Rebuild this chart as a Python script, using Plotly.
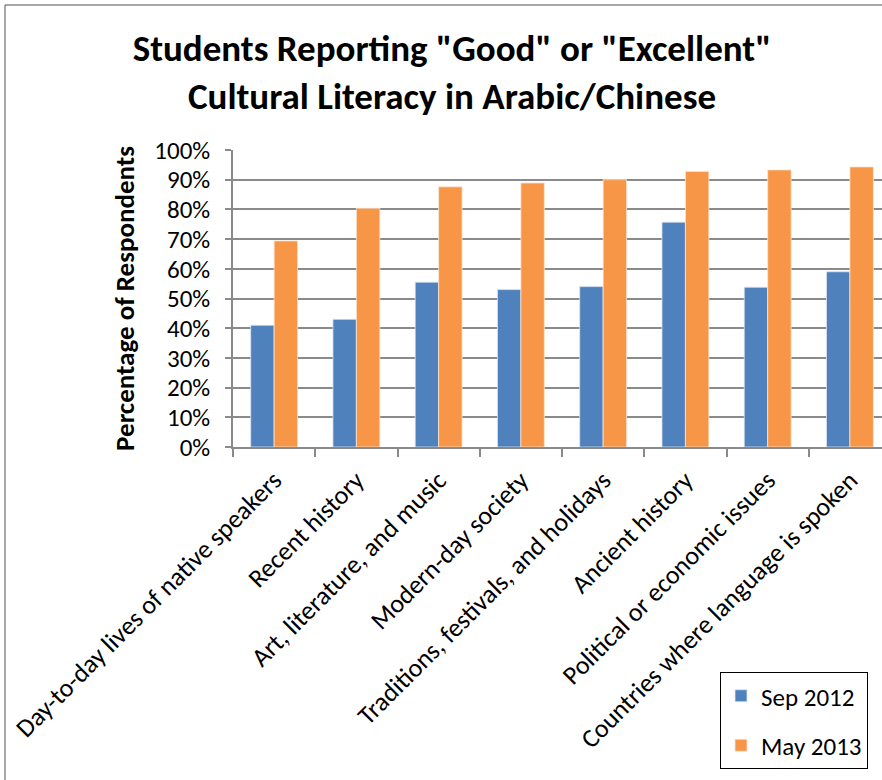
import plotly.graph_objects as go

categories = [
    "Day-to-day lives of native speakers",
    "Recent history",
    "Art, literature, and music",
    "Modern-day society",
    "Traditions, festivals, and holidays",
    "Ancient history",
    "Political or economic issues",
    "Countries where language is spoken",
]
sep_2012 = [41, 43, 55.5, 53, 54, 75.7, 53.8, 59]
may_2013 = [69.4, 80.4, 87.6, 88.9, 90, 92.8, 93.3, 94.3]
y_ticks = [0, 10, 20, 30, 40, 50, 60, 70, 80, 90, 100]
y_tick_text = [f"{v}%" for v in y_ticks]

FONT = "Carlito, Lato, Liberation Sans, sans-serif"
GRID = "#8a8a8a"

fig = go.Figure()
fig.add_trace(go.Bar(
    x=categories, y=sep_2012, name="Sep 2012", legendgroup="a",
    marker=dict(color="#4F81BD", line=dict(color="#dce6f2", width=0.8)),
))
fig.add_trace(go.Bar(
    x=categories, y=may_2013, name="May 2013", legendgroup="b",
    marker=dict(color="#F79646", line=dict(color="#fde4d0", width=0.8)),
))

# plot-area geometry (pixels) used to place the frame lines and legend
L, T, B, W = 233, 150, 447, 882
pw, ph = W - L, B - T


def px_x(x):
    return (x - L) / pw


def px_y(y):
    return (B - y) / ph


fig.update_layout(
    width=882, height=780,
    margin=dict(l=L, r=0, t=T, b=780 - B),
    paper_bgcolor="white", plot_bgcolor="white",
    barmode="group", bargap=0.43, bargroupgap=0,
    font=dict(family=FONT, size=24, color="black"),
    title=dict(
        text='<b>Students Reporting "Good" or "Excellent"<br>Cultural Literacy in Arabic/Chinese</b>',
        x=0.5125, xanchor="center", y=0.922, yanchor="middle",
        font=dict(family=FONT, size=37, color="black"),
    ),
    xaxis=dict(
        range=[-0.5, 7.39], tickangle=-45, tickson="boundaries",
        ticks="outside", ticklen=8, tickcolor=GRID, tickwidth=1.5,
        showline=True, linecolor=GRID, linewidth=1.5,
        tickfont=dict(family=FONT, size=26, color="black"),
        ticklabelstandoff=6,
        showgrid=False,
    ),
    yaxis=dict(
        range=[0, 100], tickvals=y_ticks, ticktext=y_tick_text,
        ticks="outside", ticklen=6, tickcolor=GRID, tickwidth=1.5,
        showline=True, linecolor=GRID, linewidth=1.5,
        showgrid=True, gridcolor=GRID, gridwidth=1.5,
        tickfont=dict(family=FONT, size=25, color="black"),
        ticklabelstandoff=10,
        title=dict(text="<b>Percentage of Respondents</b>", standoff=12,
                   font=dict(family=FONT, size=27, color="black")),
        zeroline=False,
    ),
    legend=dict(
        x=px_x(720), y=px_y(672), xanchor="left", yanchor="top",
        bordercolor="black", borderwidth=1, bgcolor="white",
        font=dict(family=FONT, size=25, color="black"),
        tracegroupgap=14, itemwidth=30,
    ),
    shapes=[
        dict(type="line", xref="paper", yref="paper",
             x0=px_x(5), x1=px_x(5), y0=px_y(5), y1=px_y(780),
             line=dict(color="#8a8a8a", width=1.5)),
        dict(type="line", xref="paper", yref="paper",
             x0=px_x(5), x1=px_x(882), y0=px_y(5), y1=px_y(5),
             line=dict(color="#8a8a8a", width=1.5)),
    ],
)

fig.write_html("out.html")
